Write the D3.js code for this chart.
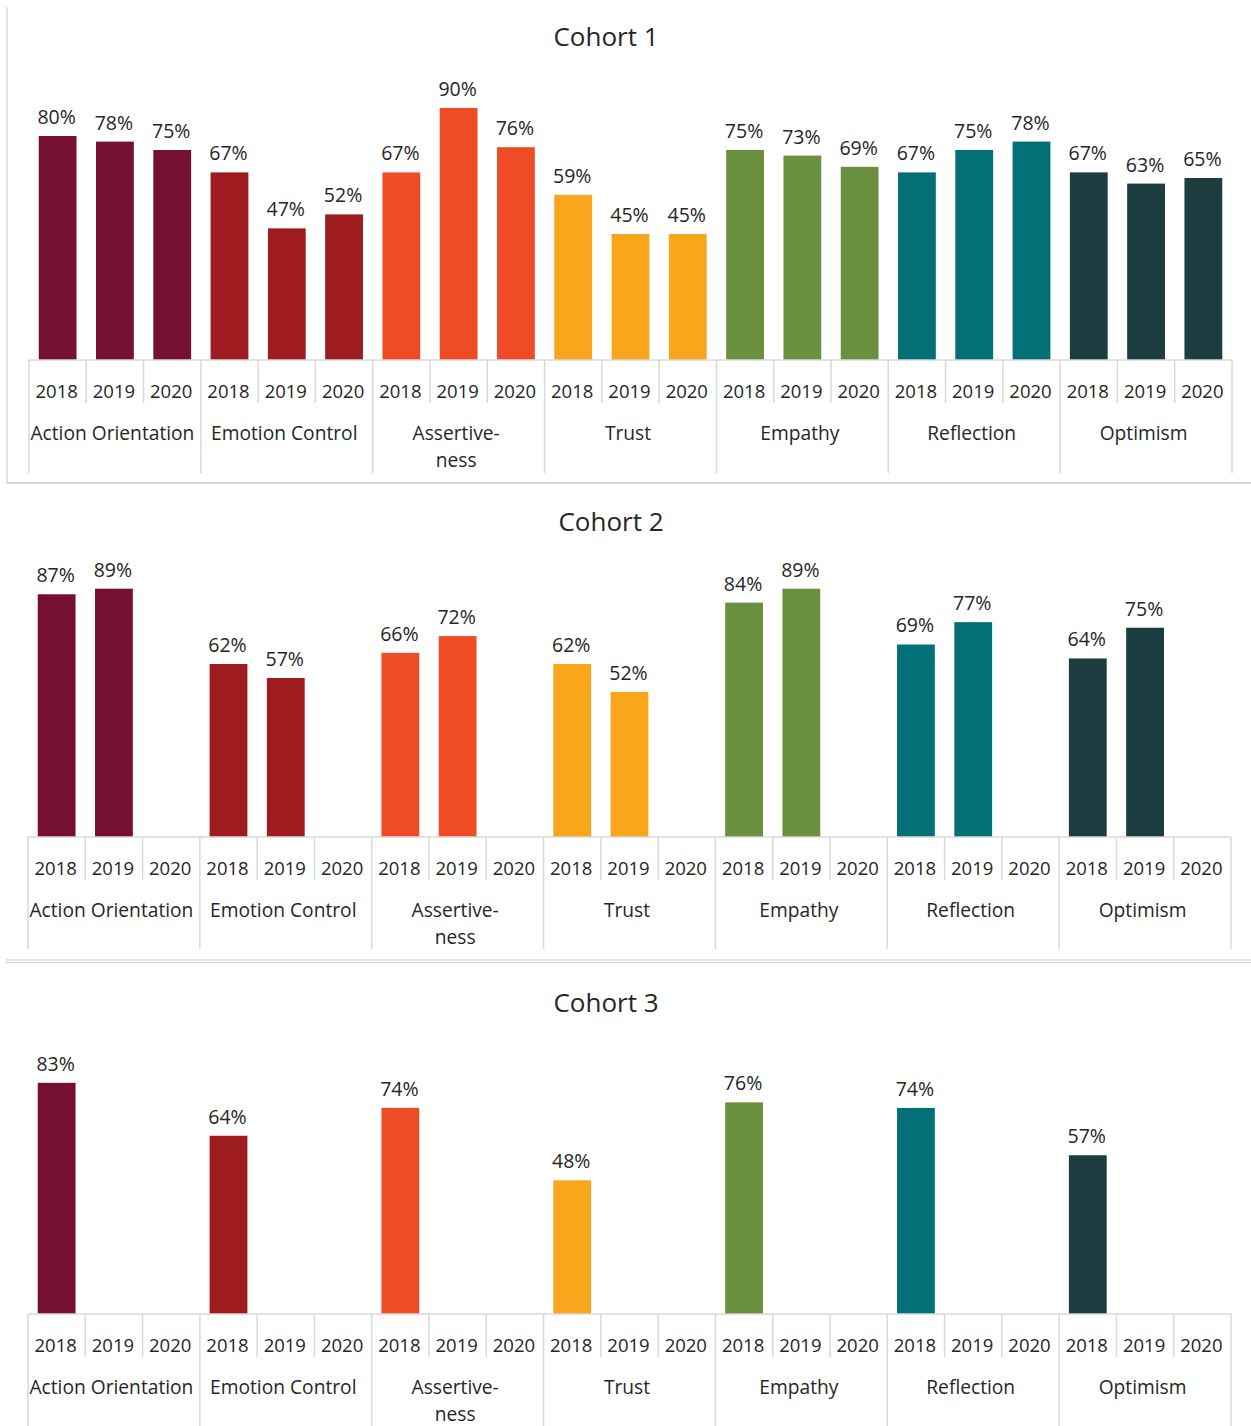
<!DOCTYPE html>
<html><head><meta charset="utf-8">
<script src="https://cdn.jsdelivr.net/npm/d3@7"></script>
<style>
html,body{margin:0;padding:0;background:#fff;}
text{font-family:"Open Sans","Noto Sans",sans-serif;fill:#262626;}
</style></head>
<body>
<svg id="c" width="1251" height="1426"></svg>
<script>
const categories = ["Action Orientation","Emotion Control","Assertive-\nness","Trust","Empathy","Reflection","Optimism"];
const years = ["2018","2019","2020"];
const colors = ["#761033","#9e1c20","#ef4b24","#f9a61c","#6a8f3e","#037078","#1b3d40"];
const cohortTitles = ["Cohort 1","Cohort 2","Cohort 3"];
const cohort1 = [80,78,75, 67,47,52, 67,90,76, 59,45,45, 75,73,69, 67,75,78, 67,63,65];
const cohort2 = [87,89,null, 62,57,null, 66,72,null, 62,52,null, 84,89,null, 69,77,null, 64,75,null];
const cohort3 = [83,null,null, 64,null,null, 74,null,null, 48,null,null, 76,null,null, 74,null,null, 57,null,null];

const svg = d3.select("#c");
const gridColor = "#d9d9d9";

const panels = [
  {data: cohort1, axisY: 360, x0: 29, x1: 1232, pxPct: 2.8, titleX: 606, titleY: 46, catBottom: 473},
  {data: cohort2, axisY: 837, x0: 28, x1: 1231, pxPct: 2.79, titleX: 611, titleY: 531, catBottom: 949},
  {data: cohort3, axisY: 1314, x0: 28, x1: 1231, pxPct: 2.785, titleX: 606, titleY: 1012, catBottom: 1430}
];

// frame lines
svg.append("line").attr("x1",7).attr("x2",7).attr("y1",7).attr("y2",483).attr("stroke","#d4d4d4").attr("stroke-width",1.2);
svg.append("line").attr("x1",7).attr("x2",1251).attr("y1",483).attr("y2",483).attr("stroke","#c8c8c8").attr("stroke-width",1.6);
svg.append("line").attr("x1",6).attr("x2",1251).attr("y1",960).attr("y2",960).attr("stroke","#c8c8c8").attr("stroke-width",1.2);
svg.append("line").attr("x1",6).attr("x2",1251).attr("y1",962.5).attr("y2",962.5).attr("stroke","#c8c8c8").attr("stroke-width",1.2);

panels.forEach((p, pi) => {
  const g = svg.append("g");
  const xCat = d3.scaleBand().domain(categories).range([p.x0, p.x1]).padding(0);
  const xSlot = d3.scaleBand().domain(years).range([0, xCat.bandwidth()]).padding(0);
  const xBar = d3.scaleBand().domain(years).range([0, xCat.bandwidth()]).paddingInner(0.34).paddingOuter(0.17);
  const y = d3.scaleLinear().domain([0, 100]).range([p.axisY, p.axisY - 100 * p.pxPct]);

  g.append("text").attr("x", p.titleX).attr("y", p.titleY).attr("text-anchor","middle")
    .style("font-size","26px").text(cohortTitles[pi]);

  const rows = [];
  categories.forEach((c, ci) => years.forEach((yr, yi) => {
    rows.push({cat: c, ci, year: yr, v: p.data[ci*3 + yi]});
  }));

  // bars
  g.selectAll("rect.bar").data(rows.filter(d => d.v != null)).join("rect")
    .attr("x", d => xCat(d.cat) + xBar(d.year))
    .attr("width", xBar.bandwidth())
    .attr("y", d => y(d.v))
    .attr("height", d => y(0) - y(d.v))
    .attr("fill", d => colors[d.ci]);

  // value labels
  g.selectAll("text.val").data(rows.filter(d => d.v != null)).join("text")
    .attr("x", d => xCat(d.cat) + xBar(d.year) + xBar.bandwidth()/2 - 1)
    .attr("y", d => y(d.v) - 12)
    .attr("text-anchor","middle").style("font-size","19.5px")
    .text(d => d.v + "%");

  // axis line
  g.append("line").attr("x1", p.x0).attr("x2", p.x1).attr("y1", p.axisY).attr("y2", p.axisY)
    .attr("stroke", gridColor).attr("stroke-width",1.5);

  // year separators (short)
  categories.forEach(c => {
    years.slice(1).forEach(yr => {
      const xx = xCat(c) + xSlot(yr);
      g.append("line").attr("x1", xx).attr("x2", xx).attr("y1", p.axisY).attr("y2", p.axisY + 43)
        .attr("stroke", gridColor).attr("stroke-width",1.5);
    });
  });
  // category separators (long)
  categories.concat([null]).forEach((c, i) => {
    const xx = c ? xCat(c) : p.x1;
    g.append("line").attr("x1", xx).attr("x2", xx).attr("y1", p.axisY).attr("y2", p.catBottom)
      .attr("stroke", gridColor).attr("stroke-width",1.5);
  });

  // year labels
  g.selectAll("text.yr").data(rows).join("text")
    .attr("x", d => xCat(d.cat) + xSlot(d.year) + xSlot.bandwidth()/2 - 1)
    .attr("y", p.axisY + 37.5)
    .attr("text-anchor","middle").style("font-size","18.5px")
    .text(d => d.year);

  // category labels
  categories.forEach(c => {
    const lines = c.split("\n");
    const cx = xCat(c) + xCat.bandwidth()/2 - 2.5;
    const t = g.append("text").attr("x", cx).attr("y", p.axisY + 80)
      .attr("text-anchor","middle").style("font-size","19.2px");
    lines.forEach((ln, li) => {
      t.append("tspan").attr("x", cx).attr("dy", li === 0 ? 0 : 26.5).text(ln);
    });
  });
});
</script>
</body></html>
